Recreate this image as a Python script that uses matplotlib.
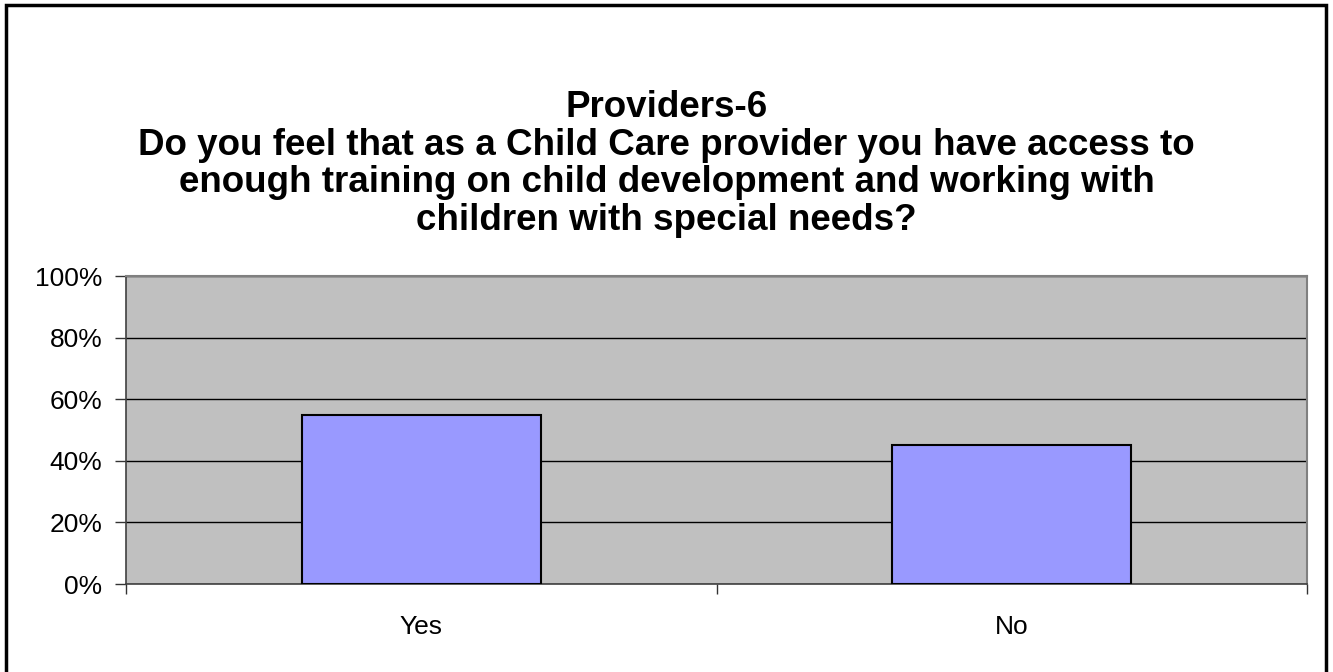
import matplotlib
matplotlib.use("Agg")
import matplotlib.pyplot as plt
from matplotlib.patches import Rectangle
from matplotlib.ticker import FuncFormatter, FixedLocator

plt.rcParams['font.family'] = ['Liberation Sans', 'DejaVu Sans']

categories = ["Yes", "No"]
shares = [55, 45]
y_ticks = [0, 20, 40, 60, 80, 100]
title_lines = [
    "Providers-6",
    "Do you feel that as a Child Care provider you have access to",
    "enough training on child development and working with",
    "children with special needs?",
]

W, H = 1333, 672
fig = plt.figure(figsize=(W / 100, H / 100), dpi=100)
fig.patch.set_facecolor("white")

# outer chart border
fig.patches.append(Rectangle((6 / W, -0.02), 1320 / W, 1.02 - 5 / H,
                             transform=fig.transFigure, fill=False,
                             edgecolor="black", linewidth=2.5))

ax = fig.add_axes([126 / W, (H - 584) / H, 1181 / W, 308 / H])
ax.set_facecolor("#C0C0C0")

x = range(len(categories))
ax.bar(x, shares, width=0.405, color="#9999FF", edgecolor="black",
       linewidth=1.5, zorder=3)

ax.set_xlim(-0.5, len(categories) - 0.5)
ax.set_ylim(0, 100)
ax.set_yticks(y_ticks)
ax.yaxis.set_major_formatter(FuncFormatter(lambda v, p: f"{v:.0f}%"))
ax.grid(axis="y", color="black", linewidth=1.0, zorder=1)

ax.set_xticks(list(x))
ax.set_xticklabels(categories)
ax.xaxis.set_minor_locator(FixedLocator([-0.5, 0.5, 1.5]))
ax.tick_params(axis="x", which="major", length=0, pad=22, labelsize=19)
ax.tick_params(axis="x", which="minor", length=7, width=1, color="#333333")
ax.tick_params(axis="y", length=8, width=1, color="#333333", labelsize=19, pad=9)

for side in ("top", "right"):
    ax.spines[side].set_color("#808080")
    ax.spines[side].set_linewidth(1.5)
for side in ("left", "bottom"):
    ax.spines[side].set_color("#404040")
    ax.spines[side].set_linewidth(1.2)

fig.text(0.5, 1 - 164 / H, "\n".join(title_lines), ha="center", va="center",
         fontsize=26.5, fontweight="bold", linespacing=1.1)

fig.savefig("out.png", dpi=100)
